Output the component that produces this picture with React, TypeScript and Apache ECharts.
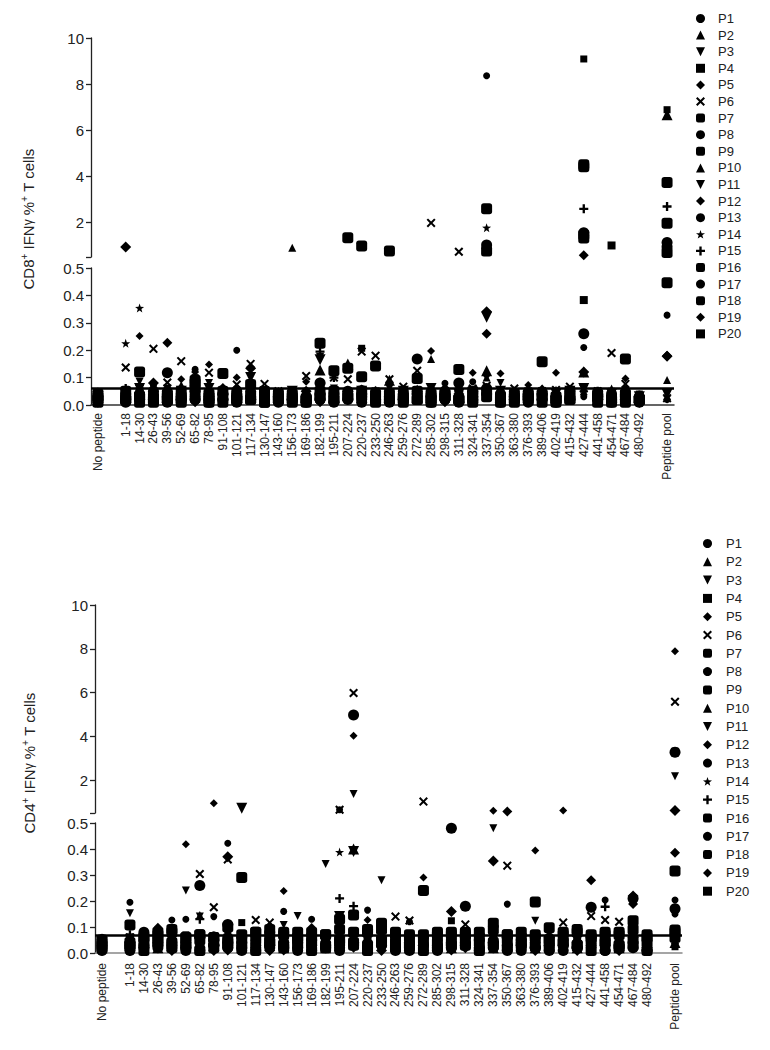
import React, { useEffect, useRef } from 'react';
import * as echarts from 'echarts';

const peptides = [
  '1-18', '14-30', '26-43', '39-56', '52-69', '65-82', '78-95', '91-108', '101-121', '117-134',
  '130-147', '143-160', '156-173', '169-186', '182-199', '195-211', '207-224', '220-237', '233-250', '246-263',
  '259-276', '272-289', '285-302', '298-315', '311-328', '324-341', '337-354', '350-367', '363-380', '376-393',
  '389-406', '402-419', '415-432', '427-444', '441-458', '454-471', '467-484', '480-492',
];
const slotLabels = ['No peptide', '', ...peptides, '', 'Peptide pool'];
const patients = ['P1', 'P2', 'P3', 'P4', 'P5', 'P6', 'P7', 'P8', 'P9', 'P10', 'P11', 'P12', 'P13', 'P14', 'P15', 'P16', 'P17', 'P18', 'P19', 'P20'];
const upperTickLabels = [2, 4, 6, 8, 10];
const upperTicks = [0.5, 2, 4, 6, 8, 10];

// CD8+ IFNγ % (rows = P1..P20, columns = No peptide, 1-18 ... 480-492, Peptide pool)
const cd8Rows: number[][] = [
  [0.02, 0.04, 0.03, 0.07, 0.05, 0.03, 0.13, 0.02, 0.04, 0.20, 0.03, 0.05, 0.02, 0.04, 0.03, 0.05, 0.02, 0.04, 0.03, 0.05, 0.02, 0.04, 0.03, 0.05, 0.079, 0.04, 0.085, 8.36, 0.03, 0.05, 0.04, 0.02, 0.03, 0.05, 0.03, 0.04, 0.02, 0.05, 0.03, 0.328],
  [0.05, 0.06, 0.02, 0.04, 0.03, 0.073, 0.05, 0.03, 0.06, 0.02, 0.04, 0.03, 0.05, 0.90, 0.04, 0.06, 0.03, 0.05, 0.04, 0.02, 0.05, 0.03, 0.06, 0.168, 0.04, 0.03, 0.05, 0.10, 0.04, 0.03, 0.05, 0.06, 0.02, 0.04, 0.05, 0.03, 0.06, 0.04, 0.02, 0.091],
  [0.03, 0.05, 0.085, 0.03, 0.06, 0.04, 0.02, 0.08, 0.03, 0.05, 0.06, 0.04, 0.03, 0.05, 0.02, 0.175, 0.06, 0.04, 0.05, 0.03, 0.06, 0.04, 0.02, 0.05, 0.03, 0.06, 0.04, 0.33, 0.08, 0.04, 0.03, 0.05, 0.04, 0.02, 0.06, 0.05, 0.04, 0.03, 0.01, 0.044],
  [0.01, 0.03, 0.04, 0.02, 0.03, 0.05, 0.10, 0.04, 0.02, 0.03, 0.05, 0.02, 0.04, 0.03, 0.05, 0.04, 0.03, 0.02, 0.207, 0.04, 0.03, 0.05, 0.04, 0.03, 0.05, 0.02, 0.04, 0.06, 0.03, 0.02, 0.04, 0.03, 0.05, 0.04, 9.09, 0.02, 0.05, 0.03, 0.04, 6.89],
  [0.04, 0.05, 0.252, 0.06, 0.05, 0.094, 0.12, 0.148, 0.05, 0.10, 0.06, 0.04, 0.05, 0.03, 0.085, 0.06, 0.05, 0.04, 0.06, 0.05, 0.04, 0.03, 0.05, 0.197, 0.06, 0.04, 0.118, 0.06, 0.115, 0.05, 0.073, 0.06, 0.118, 0.05, 0.06, 0.04, 0.05, 0.097, 0.03, 0.02],
  [0.03, 0.137, 0.06, 0.205, 0.082, 0.16, 0.06, 0.118, 0.118, 0.075, 0.15, 0.077, 0.05, 0.04, 0.106, 0.06, 0.10, 0.094, 0.195, 0.18, 0.094, 0.067, 0.125, 1.98, 0.05, 0.73, 0.06, 0.07, 0.05, 0.06, 0.04, 0.05, 0.055, 0.067, 0.06, 0.05, 0.19, 0.077, 0.03, 0.025],
  [0.02, 0.03, 0.12, 0.02, 0.04, 0.02, 0.06, 0.03, 0.05, 0.02, 0.04, 0.03, 0.02, 0.04, 0.02, 0.03, 0.05, 1.34, 0.03, 0.02, 0.04, 0.03, 0.02, 0.04, 0.03, 0.02, 0.04, 0.05, 0.03, 0.02, 0.04, 0.03, 0.02, 0.03, 4.50, 0.04, 0.02, 0.03, 0.02, 1.96],
  [0.03, 0.02, 0.04, 0.05, 0.118, 0.03, 0.05, 0.02, 0.04, 0.05, 0.02, 0.04, 0.03, 0.02, 0.03, 0.08, 0.04, 0.05, 0.03, 0.04, 0.02, 0.05, 0.04, 0.03, 0.05, 0.08, 0.03, 0.06, 0.04, 0.03, 0.02, 0.04, 0.03, 0.05, 0.26, 0.03, 0.04, 0.02, 0.03, 1.13],
  [0.04, 0.05, 0.03, 0.02, 0.03, 0.05, 0.08, 0.04, 0.115, 0.03, 0.02, 0.05, 0.04, 0.03, 0.02, 0.05, 0.125, 0.03, 0.05, 0.04, 0.76, 0.02, 0.05, 0.03, 0.04, 0.02, 0.05, 0.03, 0.02, 0.04, 0.03, 0.04, 0.02, 0.05, 4.42, 0.03, 0.02, 0.04, 0.02, 0.446],
  [0.02, 0.03, 0.05, 0.03, 0.02, 0.04, 0.03, 0.05, 0.03, 0.02, 0.04, 0.05, 0.03, 0.02, 0.04, 0.128, 0.03, 0.15, 0.04, 0.05, 0.09, 0.04, 0.03, 0.02, 0.05, 0.04, 0.03, 0.125, 0.05, 0.03, 0.02, 0.04, 0.05, 0.03, 0.12, 0.02, 0.04, 0.05, 0.02, 6.67],
  [0.03, 0.04, 0.06, 0.02, 0.03, 0.05, 0.04, 0.06, 0.02, 0.04, 0.10, 0.03, 0.04, 0.05, 0.02, 0.165, 0.04, 0.03, 0.05, 0.02, 0.04, 0.05, 0.03, 0.06, 0.02, 0.04, 0.03, 0.32, 0.05, 0.04, 0.02, 0.03, 0.04, 0.05, 0.06, 0.03, 0.04, 0.02, 0.03, 0.04],
  [0.01, 0.93, 0.03, 0.08, 0.04, 0.02, 0.03, 0.04, 0.06, 0.03, 0.134, 0.02, 0.03, 0.04, 0.05, 0.08, 0.03, 0.05, 0.04, 0.03, 0.02, 0.04, 0.05, 0.03, 0.02, 0.04, 0.05, 0.34, 0.03, 0.02, 0.05, 0.04, 0.03, 0.02, 0.12, 0.04, 0.03, 0.05, 0.01, 0.178],
  [0.04, 0.02, 0.05, 0.04, 0.06, 0.03, 0.04, 0.02, 0.05, 0.06, 0.03, 0.04, 0.02, 0.05, 0.03, 0.08, 0.02, 0.04, 0.06, 0.03, 0.05, 0.02, 0.04, 0.05, 0.06, 0.03, 0.02, 0.11, 0.04, 0.05, 0.03, 0.02, 0.04, 0.06, 0.21, 0.04, 0.03, 0.06, 0.04, 0.02],
  [0.02, 0.225, 0.354, 0.03, 0.02, 0.05, 0.03, 0.04, 0.02, 0.05, 0.03, 0.02, 0.04, 0.03, 0.05, 0.04, 0.03, 0.02, 0.05, 0.03, 0.04, 0.03, 0.05, 0.04, 0.02, 0.05, 0.03, 1.77, 0.02, 0.03, 0.05, 0.03, 0.04, 0.02, 0.05, 0.03, 0.05, 0.04, 0.03, 0.03],
  [0.03, 0.06, 0.04, 0.05, 0.03, 0.02, 0.05, 0.03, 0.04, 0.02, 0.05, 0.04, 0.03, 0.05, 0.04, 0.195, 0.10, 0.04, 0.03, 0.05, 0.02, 0.05, 0.04, 0.03, 0.02, 0.05, 0.04, 0.06, 0.03, 0.05, 0.04, 0.02, 0.03, 0.04, 2.59, 0.05, 0.03, 0.04, 0.02, 2.69],
  [0.01, 0.02, 0.03, 0.01, 0.02, 0.03, 0.09, 0.01, 0.03, 0.02, 0.075, 0.01, 0.02, 0.01, 0.02, 0.03, 0.02, 0.134, 0.103, 0.142, 0.02, 0.01, 0.097, 0.02, 0.03, 0.02, 0.01, 2.59, 0.02, 0.01, 0.03, 0.158, 0.01, 0.02, 1.45, 0.01, 0.02, 0.01, 0.02, 3.73],
  [0.02, 0.01, 0.02, 0.02, 0.01, 0.02, 0.02, 0.01, 0.02, 0.01, 0.02, 0.02, 0.01, 0.02, 0.01, 0.02, 0.01, 0.02, 0.01, 0.02, 0.01, 0.02, 0.168, 0.01, 0.02, 0.01, 0.02, 1.02, 0.01, 0.02, 0.01, 0.02, 0.01, 0.02, 1.55, 0.02, 0.01, 0.02, 0.01, 0.95],
  [0.03, 0.02, 0.01, 0.03, 0.02, 0.01, 0.03, 0.02, 0.01, 0.03, 0.02, 0.01, 0.03, 0.02, 0.01, 0.225, 0.02, 0.03, 0.98, 0.01, 0.02, 0.03, 0.02, 0.01, 0.03, 0.13, 0.02, 0.76, 0.01, 0.03, 0.02, 0.01, 0.03, 0.02, 1.32, 0.03, 0.01, 0.168, 0.02, 0.70],
  [0.02, 0.03, 0.02, 0.01, 0.227, 0.02, 0.01, 0.03, 0.02, 0.01, 0.03, 0.02, 0.01, 0.03, 0.02, 0.01, 0.03, 0.02, 0.01, 0.03, 0.02, 0.01, 0.03, 0.02, 0.01, 0.03, 0.02, 0.26, 0.03, 0.01, 0.02, 0.03, 0.01, 0.02, 0.58, 0.02, 0.03, 0.01, 0.02, 0.18],
  [0.04, 0.03, 0.05, 0.04, 0.05, 0.04, 0.05, 0.03, 0.05, 0.04, 0.05, 0.03, 0.04, 0.05, 0.03, 0.04, 0.05, 0.04, 0.03, 0.05, 0.04, 0.03, 0.05, 0.04, 0.03, 0.05, 0.04, 0.05, 0.04, 0.03, 0.05, 0.04, 0.03, 0.04, 0.383, 0.03, 1.00, 0.04, 0.03, 0.72],
];

// CD4+ IFNγ % (rows = P1..P20)
const cd4Rows: number[][] = [
  [0.02, 0.195, 0.04, 0.06, 0.127, 0.13, 0.05, 0.14, 0.422, 0.04, 0.06, 0.03, 0.16, 0.05, 0.13, 0.04, 0.06, 0.05, 0.165, 0.04, 0.06, 0.03, 0.05, 0.04, 0.06, 0.05, 0.04, 0.06, 0.188, 0.04, 0.05, 0.03, 0.06, 0.04, 0.05, 0.204, 0.04, 0.06, 0.03, 0.204],
  [0.04, 0.03, 0.06, 0.05, 0.07, 0.04, 0.146, 0.05, 0.06, 0.07, 0.04, 0.06, 0.05, 0.07, 0.04, 0.06, 0.05, 0.07, 0.04, 0.06, 0.05, 0.04, 0.07, 0.05, 0.06, 0.04, 0.07, 0.05, 0.06, 0.04, 0.05, 0.07, 0.04, 0.06, 0.05, 0.07, 0.04, 0.06, 0.05, 0.05],
  [0.03, 0.153, 0.05, 0.04, 0.06, 0.24, 0.14, 0.04, 0.05, 0.06, 0.03, 0.05, 0.108, 0.142, 0.06, 0.342, 0.04, 1.37, 0.06, 0.28, 0.05, 0.06, 0.04, 0.05, 0.07, 0.04, 0.06, 0.48, 0.05, 0.06, 0.124, 0.04, 0.05, 0.07, 0.04, 0.06, 0.05, 0.04, 0.06, 2.18],
  [0.05, 0.04, 0.07, 0.06, 0.05, 0.07, 0.06, 0.05, 0.07, 0.117, 0.05, 0.07, 0.06, 0.05, 0.07, 0.06, 0.05, 0.07, 0.06, 0.05, 0.07, 0.06, 0.05, 0.07, 0.124, 0.06, 0.05, 0.07, 0.06, 0.05, 0.07, 0.06, 0.05, 0.07, 0.06, 0.05, 0.07, 0.06, 0.05, 0.024],
  [0.03, 0.05, 0.06, 0.101, 0.05, 0.418, 0.06, 0.95, 0.05, 0.06, 0.04, 0.05, 0.238, 0.06, 0.10, 0.05, 0.06, 4.03, 0.127, 0.05, 0.06, 0.04, 0.29, 0.06, 0.05, 0.04, 0.06, 0.60, 0.05, 0.04, 0.394, 0.06, 0.61, 0.05, 0.06, 0.04, 0.05, 0.06, 0.04, 7.89],
  [0.02, 0.06, 0.05, 0.07, 0.06, 0.05, 0.304, 0.176, 0.36, 0.06, 0.127, 0.117, 0.07, 0.06, 0.05, 0.07, 0.65, 5.98, 0.06, 0.07, 0.14, 0.125, 1.02, 0.06, 0.07, 0.11, 0.06, 0.07, 0.336, 0.05, 0.06, 0.07, 0.117, 0.06, 0.142, 0.127, 0.12, 0.07, 0.05, 5.58],
  [0.05, 0.108, 0.03, 0.05, 0.04, 0.03, 0.05, 0.04, 0.03, 0.29, 0.05, 0.04, 0.03, 0.05, 0.04, 0.03, 0.05, 0.04, 0.03, 0.05, 0.04, 0.03, 0.05, 0.04, 0.03, 0.05, 0.04, 0.03, 0.05, 0.04, 0.03, 0.05, 0.04, 0.03, 0.05, 0.04, 0.03, 0.05, 0.04, 0.06],
  [0.01, 0.02, 0.08, 0.03, 0.02, 0.01, 0.26, 0.03, 0.11, 0.02, 0.01, 0.03, 0.02, 0.01, 0.03, 0.02, 0.01, 4.98, 0.02, 0.03, 0.01, 0.02, 0.03, 0.01, 0.02, 0.03, 0.01, 0.02, 0.03, 0.01, 0.02, 0.03, 0.01, 0.02, 0.03, 0.01, 0.02, 0.21, 0.01, 0.17],
  [0.03, 0.04, 0.06, 0.08, 0.09, 0.06, 0.07, 0.06, 0.10, 0.05, 0.08, 0.07, 0.08, 0.06, 0.08, 0.07, 0.09, 0.08, 0.08, 0.09, 0.07, 0.06, 0.07, 0.08, 0.07, 0.08, 0.08, 0.09, 0.07, 0.06, 0.07, 0.097, 0.08, 0.09, 0.07, 0.08, 0.07, 0.09, 0.07, 0.08],
  [0.02, 0.05, 0.04, 0.02, 0.05, 0.04, 0.02, 0.05, 0.04, 0.02, 0.05, 0.04, 0.02, 0.05, 0.04, 0.02, 0.05, 0.40, 0.02, 0.05, 0.04, 0.02, 0.05, 0.04, 0.02, 0.05, 0.04, 0.02, 0.05, 0.04, 0.02, 0.05, 0.04, 0.02, 0.05, 0.04, 0.02, 0.05, 0.04, 0.04],
  [0.04, 0.02, 0.03, 0.05, 0.03, 0.02, 0.04, 0.03, 0.02, 0.72, 0.03, 0.02, 0.04, 0.03, 0.02, 0.04, 0.14, 0.39, 0.02, 0.04, 0.03, 0.02, 0.04, 0.03, 0.02, 0.04, 0.03, 0.02, 0.04, 0.03, 0.02, 0.04, 0.03, 0.02, 0.04, 0.03, 0.02, 0.04, 0.03, 0.05],
  [0.03, 0.01, 0.02, 0.04, 0.01, 0.03, 0.02, 0.01, 0.37, 0.03, 0.02, 0.01, 0.04, 0.02, 0.01, 0.03, 0.02, 0.04, 0.03, 0.01, 0.02, 0.04, 0.01, 0.03, 0.16, 0.02, 0.01, 0.354, 0.02, 0.03, 0.01, 0.02, 0.03, 0.01, 0.02, 0.03, 0.01, 0.219, 0.02, 0.61],
  [0.06, 0.03, 0.07, 0.02, 0.04, 0.06, 0.03, 0.07, 0.02, 0.04, 0.06, 0.03, 0.07, 0.02, 0.04, 0.06, 0.65, 0.07, 0.02, 0.04, 0.06, 0.12, 0.07, 0.02, 0.04, 0.06, 0.03, 0.07, 0.02, 0.04, 0.06, 0.03, 0.07, 0.02, 0.04, 0.06, 0.03, 0.07, 0.02, 0.15],
  [0.01, 0.06, 0.02, 0.05, 0.03, 0.06, 0.02, 0.05, 0.03, 0.06, 0.02, 0.05, 0.03, 0.06, 0.02, 0.05, 0.388, 0.06, 0.02, 0.05, 0.03, 0.06, 0.02, 0.05, 0.03, 0.06, 0.02, 0.05, 0.03, 0.06, 0.02, 0.05, 0.03, 0.06, 0.02, 0.05, 0.03, 0.06, 0.02, 0.07],
  [0.03, 0.07, 0.05, 0.03, 0.07, 0.05, 0.13, 0.03, 0.07, 0.05, 0.03, 0.07, 0.05, 0.03, 0.07, 0.05, 0.21, 0.18, 0.07, 0.05, 0.03, 0.07, 0.05, 0.03, 0.07, 0.05, 0.03, 0.07, 0.05, 0.03, 0.07, 0.05, 0.03, 0.07, 0.05, 0.178, 0.03, 0.07, 0.05, 0.09],
  [0.02, 0.03, 0.06, 0.07, 0.08, 0.06, 0.07, 0.06, 0.05, 0.07, 0.08, 0.09, 0.07, 0.08, 0.06, 0.07, 0.13, 0.146, 0.09, 0.114, 0.08, 0.07, 0.24, 0.07, 0.08, 0.07, 0.06, 0.114, 0.07, 0.08, 0.06, 0.05, 0.07, 0.08, 0.06, 0.07, 0.08, 0.124, 0.06, 0.088],
  [0.02, 0.01, 0.03, 0.02, 0.04, 0.02, 0.01, 0.03, 0.02, 0.01, 0.03, 0.02, 0.04, 0.02, 0.01, 0.03, 0.02, 0.04, 0.01, 0.03, 0.02, 0.01, 0.03, 0.02, 0.48, 0.18, 0.02, 0.04, 0.01, 0.03, 0.02, 0.01, 0.03, 0.02, 0.176, 0.01, 0.03, 0.02, 0.01, 3.28],
  [0.04, 0.03, 0.01, 0.04, 0.02, 0.03, 0.01, 0.02, 0.04, 0.03, 0.01, 0.04, 0.02, 0.03, 0.01, 0.02, 0.04, 0.03, 0.01, 0.04, 0.02, 0.03, 0.01, 0.02, 0.04, 0.03, 0.01, 0.04, 0.02, 0.03, 0.196, 0.02, 0.04, 0.03, 0.01, 0.04, 0.02, 0.03, 0.01, 0.315],
  [0.01, 0.02, 0.04, 0.03, 0.02, 0.04, 0.03, 0.02, 0.01, 0.04, 0.02, 0.03, 0.01, 0.04, 0.02, 0.03, 0.01, 0.02, 0.04, 0.03, 0.02, 0.04, 0.03, 0.02, 0.01, 0.04, 0.02, 0.03, 0.57, 0.02, 0.03, 0.01, 0.04, 0.02, 0.28, 0.03, 0.01, 0.188, 0.02, 0.386],
  [0.05, 0.06, 0.04, 0.06, 0.05, 0.04, 0.06, 0.05, 0.04, 0.06, 0.05, 0.04, 0.06, 0.05, 0.04, 0.06, 0.05, 0.04, 0.06, 0.05, 0.04, 0.06, 0.05, 0.04, 0.06, 0.05, 0.04, 0.06, 0.05, 0.04, 0.06, 0.05, 0.04, 0.06, 0.05, 0.04, 0.06, 0.05, 0.04, 0.063],
];

const cd8Cutoff = 0.06;
const cd4Cutoff = 0.066;

const FONT = '"Liberation Sans", Arial, Helvetica, sans-serif';
const X_PATH = 'path://M0,1.6 L1.6,0 L5,3.4 L8.4,0 L10,1.6 L6.6,5 L10,8.4 L8.4,10 L5,6.6 L1.6,10 L0,8.4 L3.4,5 Z';
const PLUS_PATH = 'path://M3.7,0 H6.3 V3.7 H10 V6.3 H6.3 V10 H3.7 V6.3 H0 V3.7 H3.7 Z';
const STAR_PATH = 'path://M5,0 L6.18,3.38 L9.76,3.45 L6.9,5.62 L7.94,9.05 L5,7 L2.06,9.05 L3.1,5.62 L0.24,3.45 L3.82,3.38 Z';
const DOWN_TRI = 'path://M0,0 L10,0 L5,10 Z';

const markerStyles = [
  { symbol: 'circle', size: 7 },
  { symbol: 'triangle', size: 8 },
  { symbol: DOWN_TRI, size: 8 },
  { symbol: 'rect', size: 7 },
  { symbol: 'diamond', size: 8 },
  { symbol: X_PATH, size: 9 },
  { symbol: 'roundRect', size: 11 },
  { symbol: 'circle', size: 11 },
  { symbol: 'roundRect', size: 11 },
  { symbol: 'triangle', size: 11 },
  { symbol: DOWN_TRI, size: 11 },
  { symbol: 'diamond', size: 11 },
  { symbol: 'circle', size: 7 },
  { symbol: STAR_PATH, size: 9 },
  { symbol: PLUS_PATH, size: 9 },
  { symbol: 'roundRect', size: 11 },
  { symbol: 'circle', size: 11 },
  { symbol: 'roundRect', size: 11 },
  { symbol: 'diamond', size: 10 },
  { symbol: 'rect', size: 8 },
];

const slotOf = (i: number) => (i === 0 ? 0 : i <= peptides.length ? i + 1 : slotLabels.length - 1);

const panels = [
  {
    rows: cd8Rows, cutoff: cd8Cutoff, cell: 'CD8', left: 91, width: 583,
    upperTop: 38, upperHeight: 219, lowerTop: 268, lowerHeight: 137,
    titleX: 28, titleY: 219, baseColor: '#333', labelMargin: 8,
    legendLeft: 691, legendTop: 7, legendGap: 3.6, textPad: 8,
  },
  {
    rows: cd4Rows, cutoff: cd4Cutoff, cell: 'CD4', left: 95, width: 587,
    upperTop: 605, upperHeight: 208, lowerTop: 823, lowerHeight: 130,
    titleX: 29, titleY: 763, baseColor: '#888', labelMargin: 10,
    legendLeft: 698, legendTop: 532, legendGap: 5.3, textPad: 9,
  },
];

function buildOption() {
  const grid: any[] = [];
  const xAxis: any[] = [];
  const yAxis: any[] = [];
  const series: any[] = [];
  const legend: any[] = [];
  const graphic: any[] = [];

  panels.forEach((p, pi) => {
    const upIdx = pi * 2;
    const loIdx = pi * 2 + 1;
    grid.push({ left: p.left, width: p.width, top: p.upperTop, height: p.upperHeight });
    grid.push({ left: p.left, width: p.width, top: p.lowerTop, height: p.lowerHeight });

    xAxis.push({
      type: 'category', gridIndex: upIdx, data: slotLabels, boundaryGap: true,
      axisLine: { show: false }, axisTick: { show: false }, axisLabel: { show: false }, splitLine: { show: false },
    });
    xAxis.push({
      type: 'category', gridIndex: loIdx, data: slotLabels, boundaryGap: true,
      axisLine: { show: true, lineStyle: { color: p.baseColor, width: 1.5 } },
      axisTick: { show: false },
      axisLabel: { interval: 0, rotate: 90, fontSize: 12, fontFamily: FONT, color: '#222', margin: p.labelMargin },
      splitLine: { show: false },
    });

    yAxis.push({
      type: 'value', gridIndex: upIdx, min: 0.5, max: 10,
      axisLine: { show: true, lineStyle: { color: '#222', width: 1.3 } },
      axisTick: { show: true, length: 5, lineStyle: { color: '#222', width: 1.3 }, customValues: upperTicks },
      axisLabel: { customValues: upperTickLabels, fontSize: 15, fontFamily: FONT, color: '#222', margin: 7 },
      splitLine: { show: false },
    });
    yAxis.push({
      type: 'value', gridIndex: loIdx, min: 0, max: 0.5, interval: 0.1,
      axisLine: { show: true, lineStyle: { color: '#222', width: 1.3 } },
      axisTick: { show: true, length: 5, lineStyle: { color: '#222', width: 1.3 } },
      axisLabel: { fontSize: 15, fontFamily: FONT, color: '#222', margin: 7, formatter: (v: number) => v.toFixed(1) },
      splitLine: { show: false },
    });

    patients.forEach((name, k) => {
      const m = markerStyles[k];
      const values = p.rows[k];
      const lower: number[][] = [];
      const upper: number[][] = [];
      values.forEach((v, i) => {
        if (v > 0.5) upper.push([slotOf(i), v]);
        else lower.push([slotOf(i), v]);
      });
      const common = {
        type: 'scatter', name, symbol: m.symbol, symbolSize: m.size,
        itemStyle: { color: '#000', opacity: 1 }, silent: true,
      };
      series.push({ ...common, xAxisIndex: loIdx, yAxisIndex: loIdx, data: lower });
      series.push({ ...common, xAxisIndex: upIdx, yAxisIndex: upIdx, data: upper });
    });

    series.push({
      type: 'scatter', name: 'cutoff' + pi, xAxisIndex: loIdx, yAxisIndex: loIdx, data: [], silent: true,
      markLine: {
        symbol: 'none', silent: true, label: { show: false },
        lineStyle: { color: '#000', width: 2.5, type: 'solid' },
        data: [{ yAxis: p.cutoff }],
      },
    });

    legend.push({
      orient: 'vertical', left: p.legendLeft, top: p.legendTop,
      itemWidth: 9, itemHeight: 9, itemGap: p.legendGap,
      selectedMode: false, data: patients,
      itemStyle: { opacity: 1 },
      textStyle: { fontSize: 13, fontFamily: FONT, color: '#222', padding: [0, 0, 0, p.textPad] },
    });

    graphic.push({
      type: 'text', x: p.titleX, y: p.titleY, rotation: Math.PI / 2,
      style: {
        text: `{a|${p.cell}}{s|+}{a| IFN}{g|γ}{a| %}{s|+}{a| T cells}`,
        align: 'center', verticalAlign: 'middle', fill: '#222',
        rich: {
          a: { fontSize: 15, fontFamily: FONT, fill: '#222', lineHeight: 18 },
          s: { fontSize: 10, fontFamily: FONT, fill: '#222', verticalAlign: 'top', lineHeight: 18 },
          g: { fontSize: 12, fontFamily: FONT, fill: '#222', lineHeight: 18 },
        },
      },
    });
  });

  return {
    animation: false,
    backgroundColor: '#fff',
    grid, xAxis, yAxis, series, legend, graphic,
  };
}

export default function App() {
  const ref = useRef<HTMLDivElement>(null);
  useEffect(() => {
    document.body.style.margin = '0';
    const chart = echarts.init(ref.current!, null, { renderer: 'svg' });
    chart.setOption(buildOption() as any);
    return () => chart.dispose();
  }, []);
  return <div ref={ref} style={{ width: 770, height: 1050 }} />;
}
